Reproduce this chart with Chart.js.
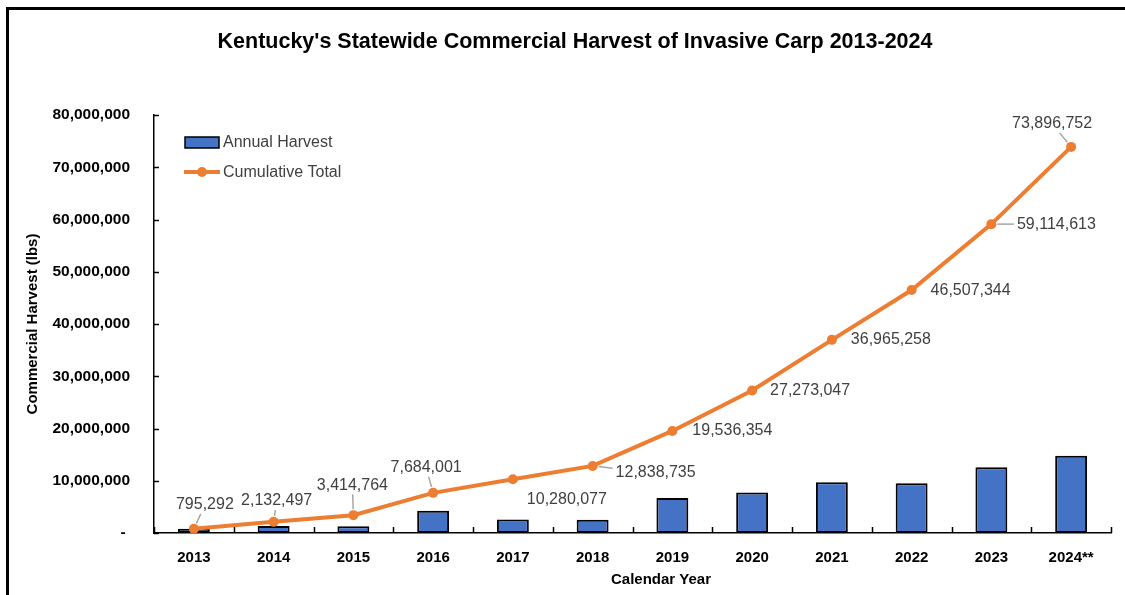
<!DOCTYPE html>
<html>
<head>
<meta charset="utf-8">
<script src="https://cdn.jsdelivr.net/npm/chart.js@4.4.1/dist/chart.umd.min.js"></script>
<style>
  html, body { margin: 0; padding: 0; background: #fff; }
  #wrap { width: 1125px; height: 595px; position: relative; }
</style>
</head>
<body>
<div id="wrap"><canvas id="c" width="1125" height="595"></canvas></div>
<script>
// ---- data ----
const years = ['2013','2014','2015','2016','2017','2018','2019','2020','2021','2022','2023','2024**'];
const annualHarvest = [795292, 1337205, 1282267, 4269237, 2596076, 2558658, 6697619, 7736693, 9692211, 9542086, 12607269, 14782139];
const cumulativeTotal = [795292, 2132497, 3414764, 7684001, 10280077, 12838735, 19536354, 27273047, 36965258, 46507344, 59114613, 73896752];
const yTickValues = [0, 10000000, 20000000, 30000000, 40000000, 50000000, 60000000, 70000000, 80000000];

const chartTitle = "Kentucky's Statewide Commercial Harvest of Invasive Carp 2013-2024";
const xTitle = 'Calendar Year';
const yTitle = 'Commercial Harvest (lbs)';
const seriesNames = ['Annual Harvest', 'Cumulative Total'];

// label placement (pixel offsets from the point) and leader flags - styling only
const labelOffsets = [[11,-24],[3,-21],[-1,-30],[-7,-25],[54,20],[63,7],[60,0],[58,0],[59,0],[59,1],[65,0],[-19,-23]];
const labelLeaders = [true,true,true,true,false,true,false,false,false,false,true,true];

const ORANGE = '#ED7D31', BLUE = '#4472C4';
const FONT = "'Liberation Sans', Arial, sans-serif";
const fmt = v => v.toLocaleString('en-US');

const drawPlugin = {
  id: 'custom',
  afterDatasetsDraw(chart) {
    const ctx = chart.ctx;
    const ca = chart.chartArea;
    const ys = chart.scales.y;
    ctx.save();
    // inner tick marks
    ctx.strokeStyle = '#000'; ctx.lineWidth = 1.5;
    yTickValues.forEach(v => {
      const y = Math.round(ys.getPixelForValue(v)) + 0.5;
      ctx.beginPath(); ctx.moveTo(ca.left, y); ctx.lineTo(ca.left + 5, y); ctx.stroke();
    });
    const n = years.length, cw = (ca.right - ca.left) / n;
    for (let i = 0; i <= n; i++) {
      const x = Math.round(ca.left + i * cw) + 0.5;
      ctx.beginPath(); ctx.moveTo(x, ca.bottom); ctx.lineTo(x, ca.bottom - 6); ctx.stroke();
    }
    // data labels
    const meta = chart.getDatasetMeta(1);
    ctx.font = '16px ' + FONT;
    ctx.textAlign = 'center'; ctx.textBaseline = 'middle';
    meta.data.forEach((pt, i) => {
      const txt = fmt(cumulativeTotal[i]);
      const [dx, dy] = labelOffsets[i];
      const lx = pt.x + dx, ly = pt.y + dy;
      if (labelLeaders[i]) {
        const w = ctx.measureText(txt).width / 2 + 3, h = 9;
        const vx = lx - pt.x, vy = ly - pt.y;
        const len = Math.hypot(vx, vy);
        const t0 = 6 / len;
        let tEnd;
        if (Math.abs(vx) > w && Math.abs(vy) > h) {
          tEnd = Math.max((Math.abs(vx) - w) / Math.abs(vx), (Math.abs(vy) - h) / Math.abs(vy));
        } else if (Math.abs(vx) > w) {
          tEnd = (Math.abs(vx) - w) / Math.abs(vx);
        } else {
          tEnd = (Math.abs(vy) - h) / Math.abs(vy);
        }
        if (tEnd > t0) {
          ctx.strokeStyle = '#A6A6A6'; ctx.lineWidth = 1.5;
          ctx.beginPath();
          ctx.moveTo(pt.x + vx * t0, pt.y + vy * t0);
          ctx.lineTo(pt.x + vx * tEnd, pt.y + vy * tEnd);
          ctx.stroke();
        }
      }
      ctx.fillStyle = '#404040';
      ctx.fillText(txt, lx, ly);
    });
    // legend
    const lgX = ca.left + 31, lgY = ca.top + 27;
    ctx.fillStyle = BLUE; ctx.strokeStyle = '#000'; ctx.lineWidth = 1.5;
    ctx.fillRect(lgX, lgY - 5, 34, 11); ctx.strokeRect(lgX, lgY - 5, 34, 11);
    ctx.strokeStyle = ORANGE; ctx.lineWidth = 4;
    ctx.beginPath(); ctx.moveTo(lgX - 1, lgY + 30); ctx.lineTo(lgX + 35, lgY + 30); ctx.stroke();
    ctx.fillStyle = ORANGE;
    ctx.beginPath(); ctx.arc(lgX + 17, lgY + 30, 5, 0, Math.PI * 2); ctx.fill();
    ctx.fillStyle = '#404040'; ctx.font = '16px ' + FONT;
    ctx.textAlign = 'left'; ctx.textBaseline = 'middle';
    ctx.fillText(seriesNames[0], lgX + 38, lgY + 1);
    ctx.fillText(seriesNames[1], lgX + 38, lgY + 31);
    // titles
    ctx.fillStyle = '#000';
    ctx.font = 'bold 21.5px ' + FONT; ctx.textAlign = 'center';
    ctx.fillText(chartTitle, 575, 42);
    ctx.font = 'bold 15px ' + FONT;
    ctx.fillText(xTitle, 661, 580);
    ctx.translate(33, (ca.top + ca.bottom) / 2);
    ctx.rotate(-Math.PI / 2);
    ctx.fillText(yTitle, 0, 0);
    ctx.restore();
  },
  afterDraw(chart) {
    const ctx = chart.ctx;
    ctx.save();
    ctx.fillStyle = '#000';
    ctx.fillRect(7, 7, 1118, 3);
    ctx.fillRect(6, 7, 3, 588);
    ctx.restore();
  }
};

new Chart(document.getElementById('c'), {
  data: {
    labels: years,
    datasets: [
      { type: 'bar', label: seriesNames[0], data: annualHarvest, backgroundColor: BLUE, borderColor: '#000', borderWidth: 2, borderSkipped: false, categoryPercentage: 1, barPercentage: 0.4, order: 2 },
      { type: 'line', label: seriesNames[1], data: cumulativeTotal, borderColor: ORANGE, backgroundColor: ORANGE, borderWidth: 4, pointRadius: 5, pointBackgroundColor: ORANGE, pointBorderColor: ORANGE, pointBorderWidth: 0, tension: 0, order: 1 }
    ]
  },
  options: {
    responsive: false, animation: false,
    layout: { padding: { left: 10, top: 115, right: 14, bottom: 0 } },
    plugins: { legend: { display: false }, tooltip: { enabled: false }, title: { display: false } },
    scales: {
      x: {
        grid: { display: false, drawTicks: false },
        border: { display: true, color: '#000', width: 1.5 },
        ticks: { color: '#000', font: { family: FONT, size: 15, weight: 'bold' }, padding: 16, maxRotation: 0 },
        afterFit: s => { s.height = 62; }
      },
      y: {
        min: 0, max: 80000000,
        afterBuildTicks: s => { s.ticks = yTickValues.map(v => ({ value: v })); },
        grid: { display: false, drawTicks: false },
        border: { display: true, color: '#000', width: 1.5 },
        ticks: { color: '#000', font: { family: FONT, size: 15.5, weight: 'bold' }, padding: 24,
                 callback: v => v === 0 ? '- ' : fmt(v) },
        afterFit: s => { s.width = 144; }
      }
    }
  },
  plugins: [drawPlugin]
});
</script>
</body>
</html>
